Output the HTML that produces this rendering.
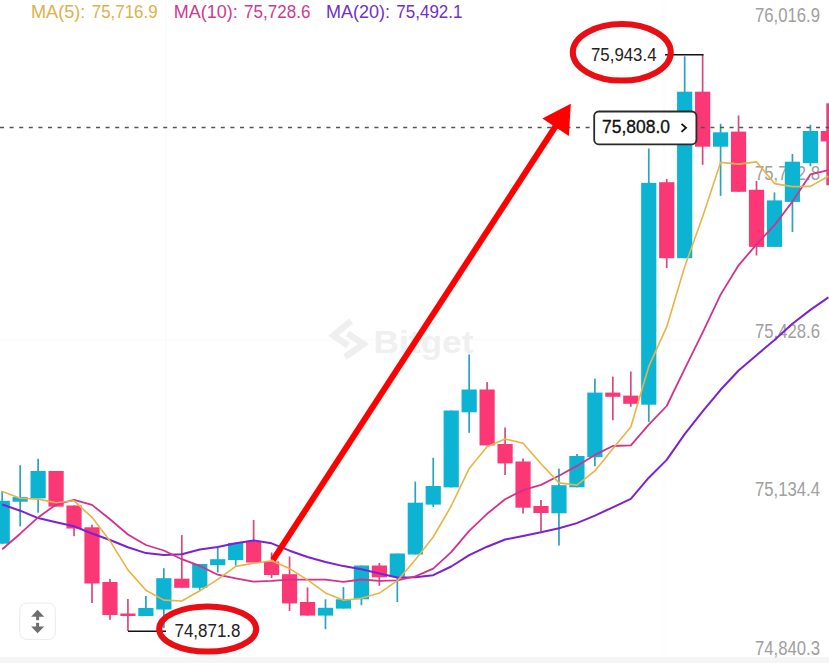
<!DOCTYPE html>
<html><head><meta charset="utf-8"><style>
html,body{margin:0;padding:0;background:#fff;}
body{width:829px;height:663px;overflow:hidden;position:relative;font-family:"Liberation Sans",sans-serif;}
svg{position:absolute;left:0;top:0;}
.t{position:absolute;white-space:nowrap;}
</style></head><body>
<svg width="829" height="663" viewBox="0 0 829 663">
<rect x="0" y="657" width="829" height="6" fill="#f5f5f5"/>
<g fill="#f9f9f9"><rect x="165.3" y="0" width="1" height="657"/><rect x="663.5" y="0" width="1" height="657"/><rect x="0" y="339.3" width="829" height="1"/></g>
<g fill="#f0f0f0"><text x="373.5" y="353" font-family="Liberation Sans" font-weight="bold" font-size="31" textLength="100" lengthAdjust="spacingAndGlyphs">Bitget</text>
<path d="M351,321 L333.5,335.5 L348,345.5" fill="none" stroke="#efefef" stroke-width="6.5"/>
<path d="M347.5,333.5 L363.5,344 L345,357" fill="none" stroke="#efefef" stroke-width="6.5"/></g>
<g font-family="Liberation Sans" fill="#a0a0a0" font-size="19.3">
<text x="755" y="22" textLength="65" lengthAdjust="spacingAndGlyphs">76,016.9</text>
<text x="755" y="180" textLength="65" lengthAdjust="spacingAndGlyphs">75,722.8</text>
<text x="755" y="338" textLength="65" lengthAdjust="spacingAndGlyphs">75,428.6</text>
<text x="755" y="496.3" textLength="65" lengthAdjust="spacingAndGlyphs">75,134.4</text>
<text x="755" y="654.5" textLength="65" lengthAdjust="spacingAndGlyphs">74,840.3</text>
</g>
<rect x="1.35" y="491.0" width="1.7" height="52.7" fill="#2aa3bb"/><rect x="-5.40" y="500.8" width="15.2" height="42.9" fill="#0cb3d3"/><rect x="19.31" y="465.2" width="1.7" height="61.1" fill="#2aa3bb"/><rect x="12.56" y="497.1" width="15.2" height="4.6" fill="#0cb3d3"/><rect x="37.27" y="458.8" width="1.7" height="53.9" fill="#2aa3bb"/><rect x="30.52" y="471.0" width="15.2" height="27.4" fill="#0cb3d3"/><rect x="55.23" y="471.0" width="1.7" height="35.6" fill="#d64b7d"/><rect x="48.48" y="471.0" width="15.2" height="35.6" fill="#fc3775"/><rect x="73.19" y="505.5" width="1.7" height="30.7" fill="#d64b7d"/><rect x="66.44" y="505.5" width="15.2" height="23.0" fill="#fc3775"/><rect x="91.15" y="524.7" width="1.7" height="78.3" fill="#d64b7d"/><rect x="84.40" y="527.3" width="15.2" height="56.2" fill="#fc3775"/><rect x="109.11" y="579.0" width="1.7" height="40.8" fill="#d64b7d"/><rect x="102.36" y="582.0" width="15.2" height="33.0" fill="#fc3775"/><rect x="127.07" y="599.0" width="1.7" height="32.0" fill="#d64b7d"/><rect x="120.32" y="613.5" width="15.2" height="2.5" fill="#fc3775"/><rect x="145.03" y="596.0" width="1.7" height="20.0" fill="#2aa3bb"/><rect x="138.28" y="608.0" width="15.2" height="8.0" fill="#0cb3d3"/><rect x="162.99" y="568.2" width="1.7" height="59.8" fill="#2aa3bb"/><rect x="156.24" y="578.2" width="15.2" height="31.3" fill="#0cb3d3"/><rect x="180.95" y="535.1" width="1.7" height="52.7" fill="#d64b7d"/><rect x="174.20" y="578.7" width="15.2" height="9.1" fill="#fc3775"/><rect x="198.91" y="564.0" width="1.7" height="26.6" fill="#2aa3bb"/><rect x="192.16" y="564.0" width="15.2" height="23.8" fill="#0cb3d3"/><rect x="216.87" y="547.1" width="1.7" height="25.4" fill="#2aa3bb"/><rect x="210.12" y="559.2" width="15.2" height="6.0" fill="#0cb3d3"/><rect x="234.83" y="542.9" width="1.7" height="22.7" fill="#2aa3bb"/><rect x="228.08" y="542.9" width="15.2" height="17.1" fill="#0cb3d3"/><rect x="252.79" y="520.0" width="1.7" height="42.5" fill="#d64b7d"/><rect x="246.04" y="541.5" width="15.2" height="21.0" fill="#fc3775"/><rect x="270.75" y="552.5" width="1.7" height="25.5" fill="#d64b7d"/><rect x="264.00" y="561.5" width="15.2" height="13.5" fill="#fc3775"/><rect x="288.71" y="556.5" width="1.7" height="54.4" fill="#d64b7d"/><rect x="281.96" y="574.2" width="15.2" height="29.2" fill="#fc3775"/><rect x="306.67" y="587.4" width="1.7" height="28.2" fill="#d64b7d"/><rect x="299.92" y="602.0" width="15.2" height="13.6" fill="#fc3775"/><rect x="324.63" y="599.3" width="1.7" height="29.9" fill="#2aa3bb"/><rect x="317.88" y="607.8" width="15.2" height="7.8" fill="#0cb3d3"/><rect x="342.59" y="587.1" width="1.7" height="21.5" fill="#2aa3bb"/><rect x="335.84" y="599.3" width="15.2" height="9.3" fill="#0cb3d3"/><rect x="360.55" y="565.5" width="1.7" height="39.7" fill="#2aa3bb"/><rect x="353.80" y="565.5" width="15.2" height="33.8" fill="#0cb3d3"/><rect x="378.51" y="563.0" width="1.7" height="22.8" fill="#d64b7d"/><rect x="371.76" y="565.5" width="15.2" height="11.8" fill="#fc3775"/><rect x="396.47" y="553.5" width="1.7" height="48.5" fill="#2aa3bb"/><rect x="389.72" y="553.5" width="15.2" height="23.2" fill="#0cb3d3"/><rect x="414.43" y="481.6" width="1.7" height="72.9" fill="#2aa3bb"/><rect x="407.68" y="502.7" width="15.2" height="51.8" fill="#0cb3d3"/><rect x="432.39" y="457.7" width="1.7" height="49.3" fill="#2aa3bb"/><rect x="425.64" y="486.0" width="15.2" height="18.6" fill="#0cb3d3"/><rect x="450.35" y="410.5" width="1.7" height="76.9" fill="#2aa3bb"/><rect x="443.60" y="410.5" width="15.2" height="76.9" fill="#0cb3d3"/><rect x="468.31" y="354.5" width="1.7" height="78.3" fill="#2aa3bb"/><rect x="461.56" y="389.5" width="15.2" height="22.8" fill="#0cb3d3"/><rect x="486.27" y="382.1" width="1.7" height="63.3" fill="#d64b7d"/><rect x="479.52" y="389.5" width="15.2" height="55.9" fill="#fc3775"/><rect x="504.23" y="427.5" width="1.7" height="47.5" fill="#d64b7d"/><rect x="497.48" y="444.0" width="15.2" height="19.4" fill="#fc3775"/><rect x="522.19" y="458.5" width="1.7" height="55.1" fill="#d64b7d"/><rect x="515.44" y="461.5" width="15.2" height="46.2" fill="#fc3775"/><rect x="540.15" y="500.0" width="1.7" height="31.5" fill="#d64b7d"/><rect x="533.40" y="506.0" width="15.2" height="7.0" fill="#fc3775"/><rect x="558.11" y="468.6" width="1.7" height="77.0" fill="#2aa3bb"/><rect x="551.36" y="485.2" width="15.2" height="28.1" fill="#0cb3d3"/><rect x="576.07" y="454.0" width="1.7" height="33.3" fill="#2aa3bb"/><rect x="569.32" y="456.0" width="15.2" height="31.3" fill="#0cb3d3"/><rect x="594.03" y="378.7" width="1.7" height="87.5" fill="#2aa3bb"/><rect x="587.28" y="392.6" width="15.2" height="64.6" fill="#0cb3d3"/><rect x="611.99" y="376.6" width="1.7" height="43.7" fill="#d64b7d"/><rect x="605.24" y="392.6" width="15.2" height="4.2" fill="#fc3775"/><rect x="629.95" y="371.5" width="1.7" height="35.3" fill="#d64b7d"/><rect x="623.20" y="395.6" width="15.2" height="8.2" fill="#fc3775"/><rect x="647.91" y="148.5" width="1.7" height="273.4" fill="#2aa3bb"/><rect x="641.16" y="182.9" width="15.2" height="221.8" fill="#0cb3d3"/><rect x="665.87" y="179.0" width="1.7" height="89.0" fill="#d64b7d"/><rect x="659.12" y="182.2" width="15.2" height="76.0" fill="#fc3775"/><rect x="683.83" y="56.3" width="1.7" height="201.9" fill="#2aa3bb"/><rect x="677.08" y="91.7" width="15.2" height="166.5" fill="#0cb3d3"/><rect x="701.79" y="54.5" width="1.7" height="110.3" fill="#d64b7d"/><rect x="695.04" y="91.7" width="15.2" height="55.0" fill="#fc3775"/><rect x="719.75" y="123.8" width="1.7" height="72.0" fill="#2aa3bb"/><rect x="713.00" y="132.3" width="15.2" height="14.4" fill="#0cb3d3"/><rect x="737.71" y="115.5" width="1.7" height="76.3" fill="#d64b7d"/><rect x="730.96" y="131.6" width="15.2" height="60.2" fill="#fc3775"/><rect x="755.67" y="181.0" width="1.7" height="74.5" fill="#d64b7d"/><rect x="748.92" y="189.8" width="15.2" height="57.1" fill="#fc3775"/><rect x="773.63" y="192.4" width="1.7" height="54.5" fill="#2aa3bb"/><rect x="766.88" y="200.4" width="15.2" height="46.5" fill="#0cb3d3"/><rect x="791.59" y="154.0" width="1.7" height="78.0" fill="#2aa3bb"/><rect x="784.84" y="161.7" width="15.2" height="40.2" fill="#0cb3d3"/><rect x="809.55" y="124.8" width="1.7" height="41.4" fill="#2aa3bb"/><rect x="802.80" y="131.0" width="15.2" height="32.2" fill="#0cb3d3"/><rect x="826.30" y="103.3" width="2.7" height="82.0" fill="#d64b7d"/><rect x="820.76" y="131.0" width="15.2" height="10.4" fill="#fc3775"/>
<polyline points="2.2,504.5 20.2,510.7 38.1,518.1 56.1,522.2 74.0,526.3 92.0,533.5 110.0,540.0 127.9,547.3 145.9,553.1 163.8,555.1 181.8,554.3 199.8,549.5 217.7,546.9 235.7,543.3 253.6,540.5 271.6,543.3 289.6,550.7 307.5,557.0 325.5,562.0 343.4,566.1 361.4,569.3 379.4,573.4 397.3,577.5 415.3,577.3 433.2,575.2 451.2,566.5 469.2,555.2 487.1,546.7 505.1,539.5 523.0,535.9 541.0,532.2 559.0,528.3 576.9,523.1 594.9,515.6 612.8,507.3 630.8,498.8 648.8,477.7 666.7,459.9 684.7,434.1 702.6,411.4 720.6,389.8 738.6,370.5 756.5,355.2 774.5,340.0 792.4,323.8 810.4,309.9 828.4,297.4" fill="none" stroke="#7a22d4" stroke-width="2" stroke-linejoin="round"/>
<polyline points="2.2,549.3 20.2,533.7 38.1,517.4 56.1,504.5 74.0,499.8 92.0,504.9 110.0,519.3 127.9,534.5 145.9,545.0 163.8,550.5 181.8,559.2 199.8,565.9 217.7,574.7 235.7,578.3 253.6,581.7 271.6,580.9 289.6,579.7 307.5,579.7 325.5,579.6 343.4,581.8 361.4,579.5 379.4,580.9 397.3,580.3 415.3,576.3 433.2,568.6 451.2,552.2 469.2,530.8 487.1,513.8 505.1,499.3 523.0,490.1 541.0,484.9 559.0,475.7 576.9,465.9 594.9,454.9 612.8,446.0 630.8,445.3 648.8,424.7 666.7,406.0 684.7,368.8 702.6,332.7 720.6,294.6 738.6,265.3 756.5,244.4 774.5,225.2 792.4,201.6 810.4,174.4 828.4,170.2" fill="none" stroke="#d6318a" stroke-width="1.8" stroke-linejoin="round"/>
<polyline points="2.2,491.4 20.2,498.2 38.1,499.1 56.1,502.8 74.0,500.8 92.0,517.3 110.0,540.9 127.9,569.9 145.9,590.2 163.8,600.1 181.8,601.0 199.8,590.8 217.7,579.4 235.7,566.4 253.6,563.3 271.6,560.7 289.6,568.6 307.5,579.9 325.5,592.9 343.4,600.2 361.4,598.3 379.4,593.1 397.3,580.7 415.3,559.7 433.2,537.0 451.2,506.0 469.2,468.4 487.1,446.8 505.1,439.0 523.0,443.3 541.0,463.8 559.0,482.9 576.9,485.1 594.9,470.9 612.8,448.7 630.8,426.9 648.8,366.4 666.7,326.9 684.7,266.7 702.6,216.7 720.6,162.4 738.6,164.1 756.5,161.9 774.5,183.6 792.4,186.6 810.4,186.4 828.4,176.3" fill="none" stroke="#e8b347" stroke-width="1.6" stroke-linejoin="round"/>
<line x1="0" y1="127.5" x2="829" y2="127.5" stroke="#555" stroke-width="1.5" stroke-dasharray="4 5.6"/>
<g font-family="Liberation Sans" font-size="18">
<g fill="#dcb24a"><text x="31" y="18" textLength="54.4" lengthAdjust="spacingAndGlyphs">MA(5):</text><text x="91.8" y="18" textLength="65.8" lengthAdjust="spacingAndGlyphs">75,716.9</text></g>
<g fill="#cf3a8c"><text x="173.8" y="18" textLength="64" lengthAdjust="spacingAndGlyphs">MA(10):</text><text x="244.1" y="18" textLength="66.4" lengthAdjust="spacingAndGlyphs">75,728.6</text></g>
<g fill="#7030cc"><text x="326" y="18" textLength="64" lengthAdjust="spacingAndGlyphs">MA(20):</text><text x="396.3" y="18" textLength="66.2" lengthAdjust="spacingAndGlyphs">75,492.1</text></g>
</g>
<!-- high marker -->
<line x1="665" y1="54.8" x2="703.5" y2="54.8" stroke="#111" stroke-width="1.6"/>
<text x="591" y="61" font-family="Liberation Sans" font-size="19" fill="#222" textLength="65.5" lengthAdjust="spacingAndGlyphs">75,943.4</text>
<ellipse cx="621.8" cy="52.3" rx="49" ry="28.3" fill="none" stroke="#e80e14" stroke-width="6"/>
<!-- low marker -->
<line x1="128" y1="631.3" x2="166" y2="631.3" stroke="#111" stroke-width="1.6"/>
<text x="174.5" y="637" font-family="Liberation Sans" font-size="18" fill="#222" textLength="66" lengthAdjust="spacingAndGlyphs">74,871.8</text>
<ellipse cx="207.7" cy="629" rx="48.5" ry="22.6" fill="none" stroke="#e80e14" stroke-width="6"/>
<!-- price box -->
<rect x="594.2" y="111.5" width="102.2" height="32.8" rx="4.5" fill="#fff" stroke="#2a2a2a" stroke-width="1.8"/>
<text x="602" y="132.7" font-family="Liberation Sans" font-size="19" fill="#111" stroke="#111" stroke-width="0.35" textLength="68" lengthAdjust="spacingAndGlyphs">75,808.0</text>
<polyline points="681.5,123.8 686,127.8 681.5,131.8" fill="none" stroke="#111" stroke-width="1.8"/>
<!-- arrow -->
<line x1="273" y1="560" x2="559" y2="121" stroke="#f00" stroke-width="6"/>
<polygon points="570.8,103.8 542.3,118.5 568.9,135.9" fill="#f00"/>
<!-- button -->
<rect x="19.8" y="603" width="35.5" height="36.5" rx="7" fill="#fff" stroke="#ececec" stroke-width="1"/>
<polygon points="37.6,609.8 31.1,616.8 44.2,616.8" fill="#6e6e6e"/>
<rect x="36.1" y="616" width="3" height="4.2" fill="#6e6e6e"/>
<rect x="36.1" y="622.8" width="3" height="4.2" fill="#6e6e6e"/>
<polygon points="37.6,633.3 31.1,626.6 44.2,626.6" fill="#6e6e6e"/>
</svg>
</body></html>
